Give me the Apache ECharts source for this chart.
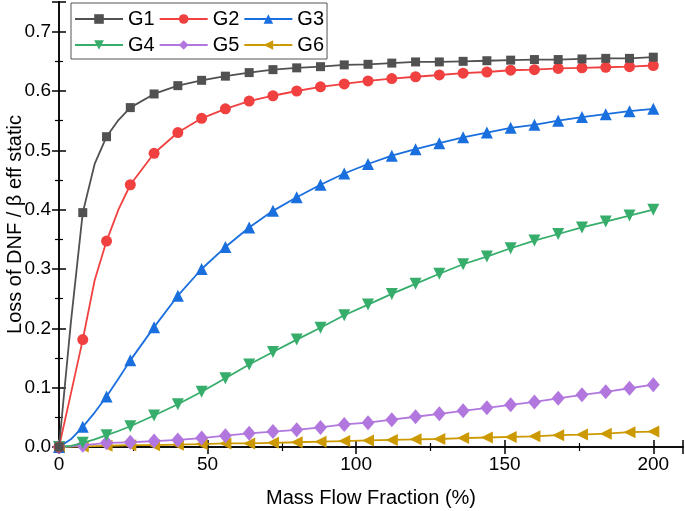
<!DOCTYPE html>
<html>
<head>
<meta charset="utf-8">
<script src="https://cdn.jsdelivr.net/npm/echarts@6/dist/echarts.min.js"></script>
<style>
html,body{margin:0;padding:0;background:#fff;}
#chart{width:685px;height:511px;}
</style>
</head>
<body>
<div id="chart"></div>
<script>
// Marker positions (Mass Flow Fraction, %)
const xMain = [0,8,16,24,32,40,48,56,64,72,80,88,96,104,112,120,128,136,144,152,160,168,176,184,192,200];
const seriesNames = ['G1','G2','G3','G4','G5','G6'];
const g1 = [0,0.395,0.523,0.572,0.595,0.609,0.618,0.625,0.631,0.636,0.639,0.641,0.644,0.645,0.647,0.649,0.649,0.650,0.651,0.652,0.653,0.653,0.654,0.655,0.655,0.657];
const g2 = [0,0.181,0.347,0.442,0.495,0.530,0.554,0.570,0.583,0.592,0.600,0.607,0.612,0.617,0.621,0.624,0.627,0.630,0.632,0.635,0.636,0.638,0.639,0.640,0.641,0.643];
const g3 = [0,0.034,0.085,0.146,0.202,0.255,0.300,0.337,0.370,0.398,0.421,0.442,0.461,0.477,0.491,0.502,0.512,0.522,0.530,0.538,0.543,0.550,0.556,0.561,0.566,0.570];
const g4 = [0,0.007,0.020,0.035,0.053,0.072,0.093,0.116,0.139,0.160,0.181,0.201,0.222,0.240,0.258,0.275,0.292,0.308,0.321,0.335,0.348,0.359,0.370,0.380,0.390,0.400];
const g5 = [0,0.003,0.007,0.008,0.010,0.012,0.015,0.019,0.023,0.026,0.029,0.033,0.038,0.041,0.046,0.051,0.056,0.061,0.066,0.071,0.076,0.082,0.088,0.093,0.099,0.105];
const g6 = [0,0.001,0.002,0.003,0.003,0.004,0.005,0.006,0.006,0.007,0.008,0.009,0.010,0.011,0.012,0.013,0.0135,0.015,0.016,0.017,0.018,0.020,0.021,0.0225,0.025,0.026];
// Intermediate (unmarked) line points between markers
const xExtra = [4,12,20];
const g1Extra = [0.21,0.477,0.551];
const g2Extra = [0.09,0.281,0.400];
const g3Extra = [0.013,0.058,0.115];
const g4Extra = [0.002,0.013,0.027];
const g5Extra = [0.001,0.005,0.0075];
const g6Extra = [0.0005,0.0015,0.0025];
// Axis ticks
const xTicks = [0,50,100,150,200];
const yTicks = [0,0.1,0.2,0.3,0.4,0.5,0.6,0.7];

const colors = ['#515151','#F14040','#1A6FDF','#37AD6B','#B177DE','#CC9900'];
const symbols = ['rect','circle','triangle','triangle','diamond','triangle'];
const rotates = [0,0,0,180,0,90];
const sizes = [9,11,12,12,[13,15],12];

function build(main, extra){
  const pts = xMain.map((x,i)=>({value:[x, main[i]]}));
  xExtra.forEach((x,i)=>pts.push({value:[x, extra[i]], symbol:'none'}));
  pts.sort((a,b)=>a.value[0]-b.value[0]);
  return pts;
}
const mains = [g1,g2,g3,g4,g5,g6];
const extras = [g1Extra,g2Extra,g3Extra,g4Extra,g5Extra,g6Extra];

const FONT = 'Liberation Sans, Arial, sans-serif';
const axisLineStyle = {color:'#000', width:1.5};

const chart = echarts.init(document.getElementById('chart'), null, {renderer:'canvas'});
chart.setOption({
  animation:false,
  backgroundColor:'#fff',
  color: colors,
  grid:{left:59, right:2, top:2, bottom:64, containLabel:false, outerBoundsMode:'none'},
  legend:{
    left:71, top:3, width:252,
    padding:[5,3,3,3],
    itemWidth:48, itemHeight:12, itemGap:4,
    borderColor:'#555', borderWidth:1, backgroundColor:'#fff',
    textStyle:{fontFamily:FONT, fontSize:20, color:'#000', lineHeight:22},
    data: seriesNames
  },
  xAxis:[{
    type:'value', min:0, max:210, interval:50,
    name:'Mass Flow Fraction (%)', nameLocation:'middle', nameGap:41, nameMoveOverlap:false,
    nameTextStyle:{fontFamily:FONT, fontSize:20, color:'#000'},
    axisLine:{show:true, lineStyle:axisLineStyle},
    axisTick:{show:true, inside:true, length:7, lineStyle:axisLineStyle},
    minorTick:{show:true, splitNumber:2, length:4, lineStyle:{color:'#000', width:1.2}},
    axisLabel:{fontFamily:FONT, fontSize:19, color:'#000', margin:8, showMaxLabel:false,
      formatter:v=> xTicks.indexOf(v)>=0 ? String(v) : ''},
    splitLine:{show:false}
  },{
    type:'value', min:0, max:210, interval:50, position:'top',
    axisLine:{show:true, lineStyle:axisLineStyle},
    axisTick:{show:true, inside:true, length:7, lineStyle:axisLineStyle},
    minorTick:{show:true, splitNumber:2, length:4, lineStyle:{color:'#000', width:1.2}},
    axisLabel:{show:false}, splitLine:{show:false}
  }],
  yAxis:[{
    type:'value', min:0, max:0.75, interval:0.1,
    name:'Loss of DNF / \u03B2 eff static', nameLocation:'middle', nameGap:34, nameMoveOverlap:false,
    nameTextStyle:{fontFamily:FONT, fontSize:20, color:'#000'},
    axisLine:{show:true, lineStyle:axisLineStyle},
    axisTick:{show:true, inside:true, length:7, lineStyle:axisLineStyle},
    minorTick:{show:true, splitNumber:2, length:4, lineStyle:{color:'#000', width:1.2}},
    axisLabel:{fontFamily:FONT, fontSize:19, color:'#000', margin:8, showMaxLabel:false,
      formatter:v=>{ const t = yTicks.find(y=>Math.abs(y-v)<1e-9); return t===undefined ? '' : t.toFixed(1);} },
    splitLine:{show:false}
  },{
    type:'value', min:0, max:0.75, interval:0.1, position:'right',
    axisLine:{show:true, lineStyle:axisLineStyle},
    axisTick:{show:true, inside:true, length:7, lineStyle:axisLineStyle},
    minorTick:{show:true, splitNumber:2, length:4, lineStyle:{color:'#000', width:1.2}},
    axisLabel:{show:false}, splitLine:{show:false}
  }],
  series: seriesNames.map((n,i)=>({
    name:n, type:'line', xAxisIndex:0, yAxisIndex:0,
    data: build(mains[i], extras[i]),
    symbol: symbols[i], symbolRotate: rotates[i], symbolSize: sizes[i],
    showSymbol:true, showAllSymbol:true,
    lineStyle:{width:1.8, color:colors[i]},
    itemStyle:{color:colors[i]},
    smooth:false,
    z: 10-i
  }))
});
</script>
</body>
</html>
